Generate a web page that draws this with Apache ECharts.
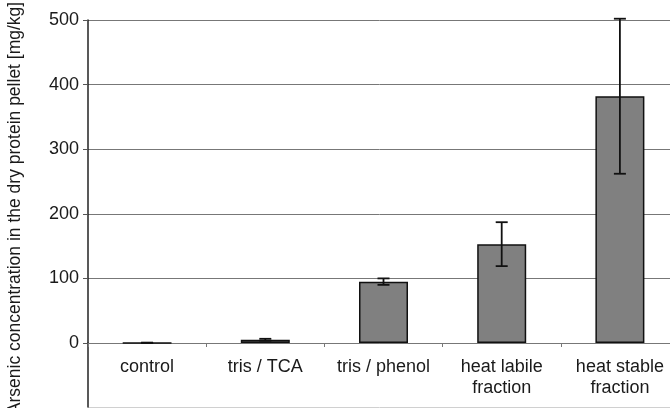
<!DOCTYPE html>
<html>
<head>
<meta charset="utf-8">
<script src="https://cdn.jsdelivr.net/npm/echarts@6/dist/echarts.min.js"></script>
<style>
  html, body { margin: 0; padding: 0; background: #fff; }
  #chart { width: 670px; height: 408px; }
</style>
</head>
<body>
<div id="chart"></div>
<script>
// arsenic in dry protein pellet, mean and +/- error
const categories = ['control', 'tris / TCA', 'tris / phenol', 'heat labile\nfraction', 'heat stable\nfraction']
const values = [0.3, 5, 95, 153, 382]
const errors = [0.3, 1.5, 5, 34, 120]
const yTicks = [0, 100, 200, 300, 400, 500]

const fontFamily = '"Liberation Sans", Arial, sans-serif'
const textColor = '#1a1a1a'

const chart = echarts.init(document.getElementById('chart'), null, { renderer: 'canvas' })

chart.setOption({
    animation: false,
    grid: [
        // main plot, 0..500
        { top: 20, left: 88, right: -9, bottom: 65, outerBoundsMode: 'none' },
        // strip below zero where the category labels sit
        { top: 343, left: 88, right: -9, bottom: 1, outerBoundsMode: 'none' },
        // full height, only carries the axis title
        { top: 8, left: 88, right: -9, bottom: 0, outerBoundsMode: 'none' },
    ],
    xAxis: [{
        gridIndex: 0,
        type: 'category',
        data: categories,
        axisLine: {
            lineStyle: { color: '#777', width: 1 },
        },
        axisTick: {
            show: true,
            length: 4,
            lineStyle: { color: '#777' },
        },
        axisLabel: {
            color: textColor,
            fontFamily: fontFamily,
            fontSize: 18,
            lineHeight: 21,
            margin: 14,
            interval: 0,
        },
        splitLine: { show: false },
    }, {
        gridIndex: 1,
        type: 'category',
        data: categories,
        show: false,
    }, {
        gridIndex: 2,
        type: 'category',
        data: categories,
        show: false,
    }],
    yAxis: [{
        gridIndex: 0,
        type: 'value',
        min: yTicks[0],
        max: yTicks[yTicks.length - 1],
        interval: 100,
        axisLine: {
            show: true,
            lineStyle: { color: '#222', width: 1.5 },
        },
        axisTick: {
            show: true,
            length: 5,
            lineStyle: { color: '#555' },
        },
        axisLabel: {
            color: textColor,
            fontFamily: fontFamily,
            fontSize: 18,
            margin: 9,
        },
        splitLine: {
            show: true,
            lineStyle: { color: '#777', width: 1 },
        },
    }, {
        gridIndex: 1,
        type: 'value',
        min: -100,
        max: 0,
        interval: 100,
        axisLine: {
            show: true,
            lineStyle: { color: '#222', width: 1.5 },
        },
        axisTick: { show: false },
        axisLabel: { show: false },
        splitLine: {
            show: true,
            lineStyle: { color: ['#d0d0d0', 'rgba(0,0,0,0)'], width: 1 },
        },
    }, {
        gridIndex: 2,
        type: 'value',
        name: 'Arsenic concentration in the dry protein pellet [mg/kg]',
        nameLocation: 'middle',
        nameGap: 64,
        nameTextStyle: {
            color: textColor,
            fontFamily: fontFamily,
            fontSize: 17.5,
        },
        axisLine: { show: false },
        axisTick: { show: false },
        axisLabel: { show: false },
        splitLine: { show: false },
    }],
    series: [{
        type: 'bar',
        xAxisIndex: 0,
        yAxisIndex: 0,
        data: values,
        barWidth: 49,
        itemStyle: {
            color: '#808080',
            borderColor: '#111',
            borderWidth: 1.5,
        },
    }, {
        type: 'custom',
        xAxisIndex: 0,
        yAxisIndex: 0,
        data: values.map((v, i) => [i, v - errors[i], v + errors[i]]),
        z: 5,
        renderItem: (params, api) => {
            const x = api.value(0)
            const lo = api.coord([x, api.value(1)])
            const hi = api.coord([x, api.value(2)])
            const cap = 6
            const style = { stroke: '#111', lineWidth: 1.8 }
            return {
                type: 'group',
                children: [
                    { type: 'line', shape: { x1: hi[0], y1: hi[1], x2: lo[0], y2: lo[1] }, style: style },
                    { type: 'line', shape: { x1: hi[0] - cap, y1: hi[1], x2: hi[0] + cap, y2: hi[1] }, style: style },
                    { type: 'line', shape: { x1: lo[0] - cap, y1: lo[1], x2: lo[0] + cap, y2: lo[1] }, style: style },
                ],
            }
        },
    }],
})

window.addEventListener('resize', () => {
    chart.resize()
})
</script>
</body>
</html>
